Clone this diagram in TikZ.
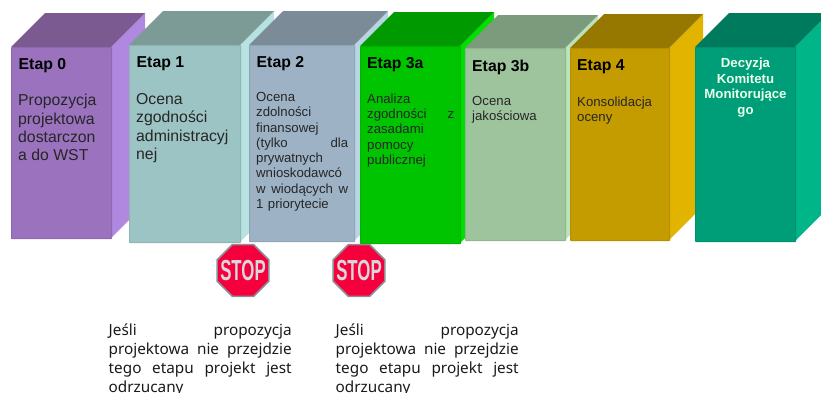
\documentclass[tikz,border=0pt]{standalone}
\usepackage{fontspec}
\setmainfont{Liberation Sans}
\newfontfamily\tahomaish{Noto Sans}
\usetikzlibrary{shapes.geometric}
\definecolor{stopred}{HTML}{F5003C}
\definecolor{stopgrey}{HTML}{8E8E96}
\definecolor{stoptxt}{HTML}{D8D8DC}
\tikzset{
  head/.style={anchor=base west,inner sep=0pt,font=\fontsize{15.8}{17}\selectfont\bfseries,text=black},
  bodytxt/.style={anchor=north west,inner sep=0pt,align=left,text=black!85},
  rej/.style={anchor=north west,inner sep=0pt,align=left,text width=183pt,text=black!90,
     font=\tahomaish\fontsize{15.3}{18.9}\selectfont},
  stopsign/.style={regular polygon,regular polygon sides=8,minimum size=56pt,inner sep=0pt,
     fill=stopred,draw=stopgrey,line width=1.6pt},
  stoptext/.style={text=stoptxt,inner sep=0pt,xscale=0.58,font=\fontsize{29}{29}\selectfont\bfseries},
}
% name, x1,y1,x2,y2, depth, front, top, side
\newcommand{\etapbox}[9]{%
  \fill[#9] (#4,#3) -- (#4+#6,#3-#6) -- (#4+#6,#5-#6) -- (#4,#5) -- cycle;
  \fill[#8] (#2,#3) -- (#2+#6,#3-#6) -- (#4+#6,#3-#6) -- (#4,#3) -- cycle;
  \node[draw=#7!92!black,line width=1.2pt,fill=#7,rounded corners=0.6pt,anchor=north west,inner sep=0pt,
        minimum width=#4pt-#2pt,minimum height=#5pt-#3pt] (#1) at (#2,#3) {};
}
\begin{document}
\begin{tikzpicture}[x=1pt,y=-1pt]
\useasboundingbox (0,0) rectangle (821,392);
\clip (0,0) rectangle (821,392);
\definecolor{fa}{HTML}{9B72BE}\definecolor{ta}{HTML}{7B5A92}\definecolor{sa}{HTML}{B088E0}
\definecolor{fb}{HTML}{9DC4C4}\definecolor{tb}{HTML}{7C9A96}\definecolor{sb}{HTML}{B6E2E2}
\definecolor{fc}{HTML}{9DB3C5}\definecolor{tc}{HTML}{7B8C98}\definecolor{sc}{HTML}{B8D5E4}
\definecolor{fd}{HTML}{00C400}\definecolor{td}{HTML}{009A00}\definecolor{sd}{HTML}{00E000}
\definecolor{fe}{HTML}{9EC49E}\definecolor{te}{HTML}{7C9A7C}\definecolor{se}{HTML}{BCE4BC}
\definecolor{ff}{HTML}{C49C00}\definecolor{tf}{HTML}{967800}\definecolor{sf}{HTML}{E2B400}
\definecolor{fg}{HTML}{009E78}\definecolor{tg}{HTML}{007A5C}\definecolor{sg}{HTML}{00B688}

\etapbox{e0}{11}{47}{111}{238}{34}{fa}{ta}{sa}
\etapbox{e1}{129}{45}{240}{242}{34}{fb}{tb}{sb}
\etapbox{e2}{249}{45}{354}{241}{34}{fc}{tc}{sc}
\etapbox{e3a}{360}{46}{460}{243}{34}{fd}{td}{sd}
\etapbox{e3b}{465}{48}{565}{240}{33}{fe}{te}{se}
\etapbox{e4}{570}{48}{669}{240}{34}{ff}{tf}{sf}
\etapbox{e5}{695}{47}{795}{241}{34}{fg}{tg}{sg}

\node[head] (h0) at (18.5,69) {Etap 0};
\node[head] (h1) at (136.5,67) {Etap 1};
\node[head] (h2) at (256.5,67) {Etap 2};
\node[head] (h3a) at (367,68) {Etap 3a};
\node[head] (h3b) at (472,71) {Etap 3b};
\node[head] (h4) at (577,70) {Etap 4};

\node[bodytxt,font=\fontsize{15.8}{18.4}\selectfont] (b0) at (18,94)
  {Propozycja\\projektowa\\dostarczon\\a do WST};
\node[bodytxt,font=\fontsize{15.8}{18.4}\selectfont] (b1) at (136,93)
  {Ocena\\zgodności\\administracyj\\nej};
\node[bodytxt,font=\fontsize{13.2}{15.3}\selectfont,text width=92pt] (b2) at (256,92)
  {Ocena\\zdolności\\finansowej\\(tylko\hfill dla\\prywatnych\\wnioskodawcó\\w\hfill wiodących\hfill w\\1 priorytecie};
\node[bodytxt,font=\fontsize{13.2}{15.1}\selectfont,text width=87pt] (b3a) at (367,94)
  {Analiza\\zgodności\hfill z\\zasadami\\pomocy\\publicznej};
\node[bodytxt,font=\fontsize{13.2}{15}\selectfont] (b3b) at (472,96.5)
  {Ocena\\jakościowa};
\node[bodytxt,font=\fontsize{13.2}{15}\selectfont] (b4) at (577,96.5)
  {Konsolidacja\\oceny};
\node[anchor=north,inner sep=0pt,align=center,text=white!92!green,
      font=\fontsize{13.2}{15.8}\selectfont\bfseries] (b5) at (745.5,57.5)
  {Decyzja\\Komitetu\\Monitorujące\\go};

\node[stopsign] (s1) at (243,270.5) {};
\node[stoptext] (s1t) at (s1) {STOP};
\node[stopsign] (s2) at (359,270.5) {};
\node[stoptext] (s2t) at (s2) {STOP};

\node[rej] (r1) at (108.5,324)
  {Jeśli\hfill propozycja\\projektowa\hfill nie\hfill przejdzie\\tego\hfill etapu\hfill projekt\hfill jest\\odrzucany};
\node[rej] (r2) at (335.5,324)
  {Jeśli\hfill propozycja\\projektowa\hfill nie\hfill przejdzie\\tego\hfill etapu\hfill projekt\hfill jest\\odrzucany};
\end{tikzpicture}
\end{document}
